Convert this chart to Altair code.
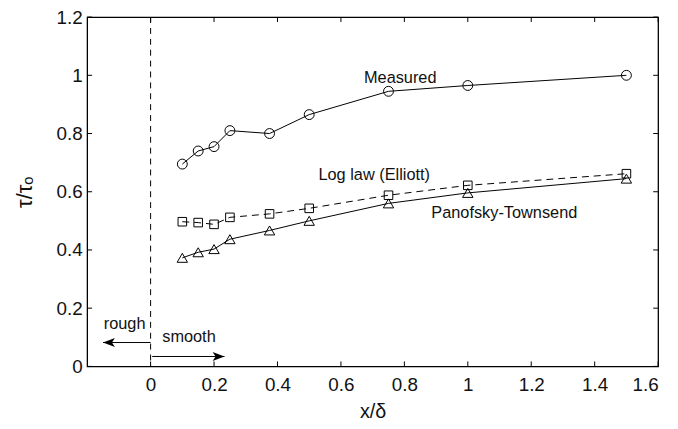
import altair as alt
import pandas as pd

# ---- data ----
x_vals = [0.1, 0.15, 0.2, 0.25, 0.375, 0.5, 0.75, 1.0, 1.5]
measured = [0.695, 0.74, 0.755, 0.81, 0.80, 0.865, 0.945, 0.965, 1.0]
log_law = [0.497, 0.494, 0.488, 0.512, 0.524, 0.543, 0.588, 0.622, 0.662]
panofsky = [0.373, 0.392, 0.403, 0.437, 0.467, 0.50, 0.56, 0.596, 0.645]

x_ticks = [0, 0.2, 0.4, 0.6, 0.8, 1.0, 1.2, 1.4, 1.6]
y_ticks = [0, 0.2, 0.4, 0.6, 0.8, 1.0, 1.2]

labels = ["Measured", "Log law (Elliott)", "Panofsky-Townsend", "rough", "smooth"]
label_x = [0.787, 0.705, 1.115, -0.082, 0.121]
label_y = [0.99, 0.656, 0.527, 0.146, 0.10]

boundary_x = [0.0]
arrow_start = [0.0, 0.005]
arrow_end = [-0.15, 0.233]
arrow_y = [0.082, 0.034]

W, H = 577, 353
FONT = "Liberation Sans"

df_m = pd.DataFrame({"x": x_vals, "y": measured})
df_l = pd.DataFrame({"x": x_vals, "y": log_law})
df_p = pd.DataFrame({"x": x_vals, "y": panofsky})

xs = alt.Scale(domain=[-0.2, 1.6], nice=False, zero=False)
ys = alt.Scale(domain=[0, 1.2], nice=False, zero=True)

x_axis = alt.Axis(values=x_ticks, format="~g", ticks=False, domain=False, grid=False,
                  labelFontSize=19, labelPadding=9, titleFontSize=20, titlePadding=8,
                  titleFontWeight="normal", labelFont=FONT, titleFont=FONT,
                  labelColor="#111", titleColor="#111")
y_axis = alt.Axis(values=y_ticks, format="~g", ticks=False, domain=False, grid=False,
                  labelFontSize=19, labelPadding=5, titleFontSize=22, titlePadding=20,
                  titleFontWeight="normal", labelFont=FONT, titleFont=FONT,
                  labelColor="#111", titleColor="#111")

X_TITLE = "x/δ"
Y_TITLE = "τ/τₒ"


def X(field="x"):
    return alt.X(field, type="quantitative", scale=xs, axis=x_axis, title=X_TITLE)


def Y(field="y"):
    return alt.Y(field, type="quantitative", scale=ys, axis=y_axis, title=Y_TITLE)


line_m = alt.Chart(df_m).mark_line(color="black", strokeWidth=1).encode(x=X(), y=Y())
pts_m = alt.Chart(df_m).mark_point(shape="circle", filled=False, color="black", size=100,
                                   strokeWidth=1, opacity=1).encode(x=X(), y=Y())

line_l = alt.Chart(df_l).mark_line(color="black", strokeWidth=1, strokeDash=[7, 5]).encode(x=X(), y=Y())
pts_l = alt.Chart(df_l).mark_point(shape="square", filled=False, color="black", size=75,
                                   strokeWidth=1, opacity=1).encode(x=X(), y=Y())

line_p = alt.Chart(df_p).mark_line(color="black", strokeWidth=1).encode(x=X(), y=Y())
pts_p = alt.Chart(df_p).mark_point(shape="triangle-up", filled=False, color="black", size=110,
                                   strokeWidth=1, opacity=1).encode(x=X(), y=Y())

# boundary dashed line
df_b = pd.DataFrame({"bx": boundary_x})
boundary = alt.Chart(df_b).mark_rule(color="black", strokeWidth=1, strokeDash=[6, 5]).encode(
    x=X("bx"), y=alt.value(0), y2=alt.value(H))

# arrows
df_a = pd.DataFrame({"xs": arrow_start, "xe": arrow_end, "y": arrow_y})
arrows = alt.Chart(df_a).mark_rule(color="black", strokeWidth=1).encode(
    x=X("xs"), x2=alt.X2("xe"), y=Y())
head_left = alt.Chart(df_a.iloc[[0]]).mark_point(
    shape="M-1,0 L1,-0.75 L0.5,0 L1,0.75 Z", filled=True, color="black", size=144,
    opacity=1, xOffset=6).encode(x=X("xe"), y=Y())
head_right = alt.Chart(df_a.iloc[[1]]).mark_point(
    shape="M1,0 L-1,-0.75 L-0.5,0 L-1,0.75 Z", filled=True, color="black", size=144,
    opacity=1, xOffset=-6).encode(x=X("xe"), y=Y())

# annotations
df_t = pd.DataFrame({"t": labels, "x": label_x, "y": label_y})
texts = alt.Chart(df_t).mark_text(font=FONT, fontSize=16.5, color="#111", align="center",
                                  baseline="middle").encode(x=X(), y=Y(), text="t:N")

# inward ticks on all four sides
df_xt = pd.DataFrame({"t": x_ticks})
df_yt = pd.DataFrame({"t": y_ticks})
xt_bot = alt.Chart(df_xt).mark_rule(color="black", strokeWidth=1).encode(
    x=X("t"), y=alt.value(H), y2=alt.value(H - 5))
xt_top = alt.Chart(df_xt).mark_rule(color="black", strokeWidth=1).encode(
    x=X("t"), y=alt.value(0), y2=alt.value(5))
yt_left = alt.Chart(df_yt).mark_rule(color="black", strokeWidth=1).encode(
    y=Y("t"), x=alt.value(0), x2=alt.value(5))
yt_right = alt.Chart(df_yt).mark_rule(color="black", strokeWidth=1).encode(
    y=Y("t"), x=alt.value(W), x2=alt.value(W - 5))

chart = alt.layer(
    line_m, boundary, xt_bot, xt_top, yt_left, yt_right,
    line_l, line_p, pts_m, pts_l, pts_p, arrows, head_left, head_right, texts
).properties(
    width=W, height=H,
    autosize=alt.AutoSizeParams(type="none"),
    padding={"left": 80, "top": 7, "right": 12, "bottom": 53},
    background="white",
).configure_view(stroke="black", strokeWidth=1.3)

chart.save("out.html", embed_options={"renderer": "svg", "actions": False})
